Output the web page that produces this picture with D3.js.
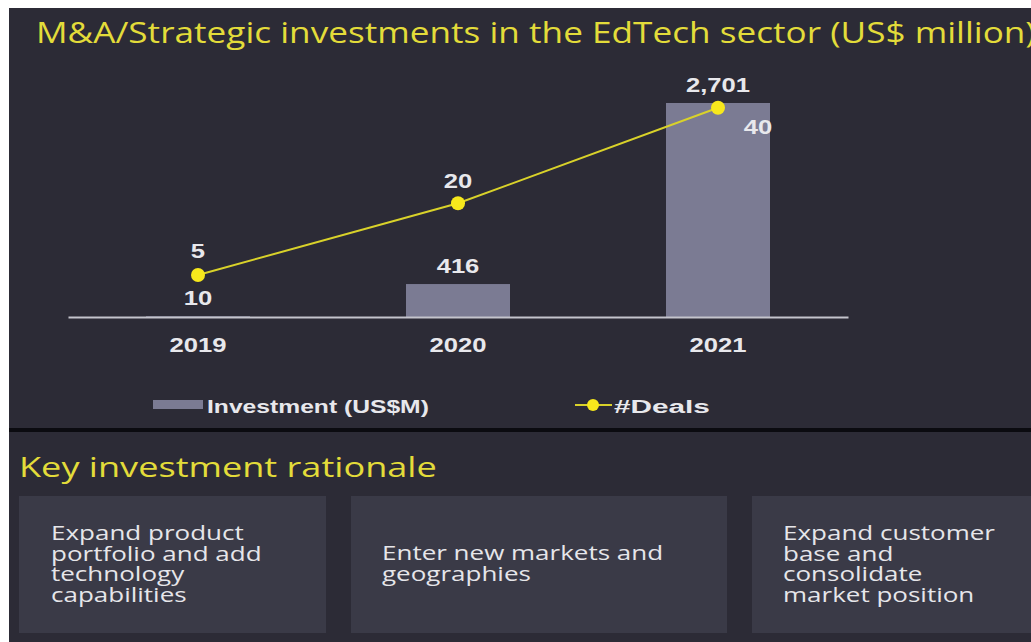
<!DOCTYPE html>
<html><head><meta charset="utf-8">
<script src="https://cdn.jsdelivr.net/npm/d3@7"></script>
<style>body{margin:0;background:#fff;}svg{display:block;}</style>
</head><body>
<svg id="c" width="1031" height="642"></svg>
<script>
const years = ["2019", "2020", "2021"];
const investment = [10, 416, 2701];
const deals = [5, 20, 40];
const investmentLabels = ["10", "416", "2,701"];
const dealLabels = ["5", "20", "40"];
const legendLabels = ["Investment (US$M)", "#Deals"];
const rationale = [
  ["Expand product", "portfolio and add", "technology", "capabilities"],
  ["Enter new markets and", "geographies"],
  ["Expand customer", "base and", "consolidate", "market position"]
];

const svg = d3.select("#c");
const bg = "#2c2b36";
const SX = 1.22; // horizontal stretch of the reference picture
svg.append("rect").attr("x", 9).attr("y", 8).attr("width", 1022).attr("height", 634).attr("fill", bg);
svg.append("rect").attr("x", 9).attr("y", 428).attr("width", 1022).attr("height", 4).attr("fill", "#0b0b10");

// place a text at (x,y) and stretch it horizontally so that it spans width w (if given)
function stretchedText(parent, x, y, str, font, size, fill, opts = {}) {
  const t = parent.append("text").attr("x", 0).attr("y", 0)
    .attr("font-family", font).attr("font-size", size).attr("fill", fill)
    .attr("font-weight", opts.weight || "normal")
    .attr("text-anchor", opts.anchor || "start").text(str);
  let sx = opts.sx || SX;
  if (opts.width) sx = opts.width / t.node().getComputedTextLength();
  t.attr("transform", `translate(${x},${y}) scale(${sx},1)`);
  return t;
}

const serif = "'Open Sans', sans-serif";
const lblFont = "'Liberation Sans', Arial, sans-serif";
stretchedText(svg, 36, 43, "M&A/Strategic investments in the EdTech sector (US$ million)", serif, 29, "#e3dc3a", {width: 1000});

const x = d3.scaleBand().domain(years).range([68, 848]).paddingInner(0.6).paddingOuter(0.3);
const y = d3.scaleLinear().domain([0, 2701]).range([317, 103]);
const y2 = d3.scaleLinear().domain([-3.8, 41]).range([317, 103]);

const g = svg.append("g");
g.selectAll("rect.bar").data(years).join("rect").attr("class", "bar")
  .attr("x", d => x(d)).attr("width", x.bandwidth())
  .attr("y", (d, i) => y(investment[i])).attr("height", (d, i) => y(0) - y(investment[i]))
  .attr("fill", "#7b7b93");

const axis = g.append("g").attr("transform", "translate(0,317)")
  .call(d3.axisBottom(x).tickSize(0).tickPadding(20));
axis.select(".domain").attr("stroke", "#c4c4cc").attr("stroke-width", 2);
axis.selectAll("text").attr("font-family", lblFont)
  .attr("font-size", 21).attr("font-weight", "bold").attr("fill", "#e8e8ec")
  .attr("transform", `scale(${SX},1)`);

const cx = d => x(d) + x.bandwidth() / 2;
const line = d3.line().x((d, i) => cx(years[i])).y(d => y2(d));
g.append("path").datum(deals).attr("d", line).attr("fill", "none")
  .attr("stroke", "#d9d22a").attr("stroke-width", 2);
g.selectAll("circle.pt").data(deals).join("circle")
  .attr("cx", (d, i) => cx(years[i])).attr("cy", d => y2(d)).attr("r", 7).attr("fill", "#f7e81c");

const dealOff = [[0, -17], [0, -15], [40, 26]];
deals.forEach((d, i) => {
  stretchedText(g, cx(years[i]) + dealOff[i][0], y2(d) + dealOff[i][1], dealLabels[i], lblFont, 21, "#e8e8ec",
    {anchor: "middle", weight: "bold"});
});
investment.forEach((d, i) => {
  stretchedText(g, cx(years[i]), y(d) - 11, investmentLabels[i], lblFont, 21, "#e8e8ec",
    {anchor: "middle", weight: "bold"});
});

// legend
const lg = svg.append("g");
lg.append("rect").attr("x", 153).attr("y", 400).attr("width", 50).attr("height", 9).attr("fill", "#7b7b93");
stretchedText(lg, 207, 413, legendLabels[0], lblFont, 19, "#e8e8ec", {weight: "bold", width: 222});
lg.append("line").attr("x1", 575).attr("x2", 612).attr("y1", 405).attr("y2", 405).attr("stroke", "#d9d22a").attr("stroke-width", 2);
lg.append("circle").attr("cx", 593).attr("cy", 405).attr("r", 6).attr("fill", "#f7e81c");
stretchedText(lg, 614, 413, legendLabels[1], lblFont, 19, "#e8e8ec", {weight: "bold", width: 96});

// rationale section
stretchedText(svg, 19, 477, "Key investment rationale", serif, 27, "#e3dc3a", {width: 418});

const boxes = [[19, 326, 51, 540], [351, 727, 382, 560], [752, 1031, 783, 540]];
boxes.forEach((b, i) => {
  svg.append("rect").attr("x", b[0]).attr("y", 496).attr("width", b[1] - b[0]).attr("height", 137).attr("fill", "#3a3a47");
  rationale[i].forEach((s, j) => {
    stretchedText(svg, b[2], b[3] + j * 20.5, s, serif, 20, "#e6e6ea", {sx: 1.3});
  });
});
</script>
</body></html>
